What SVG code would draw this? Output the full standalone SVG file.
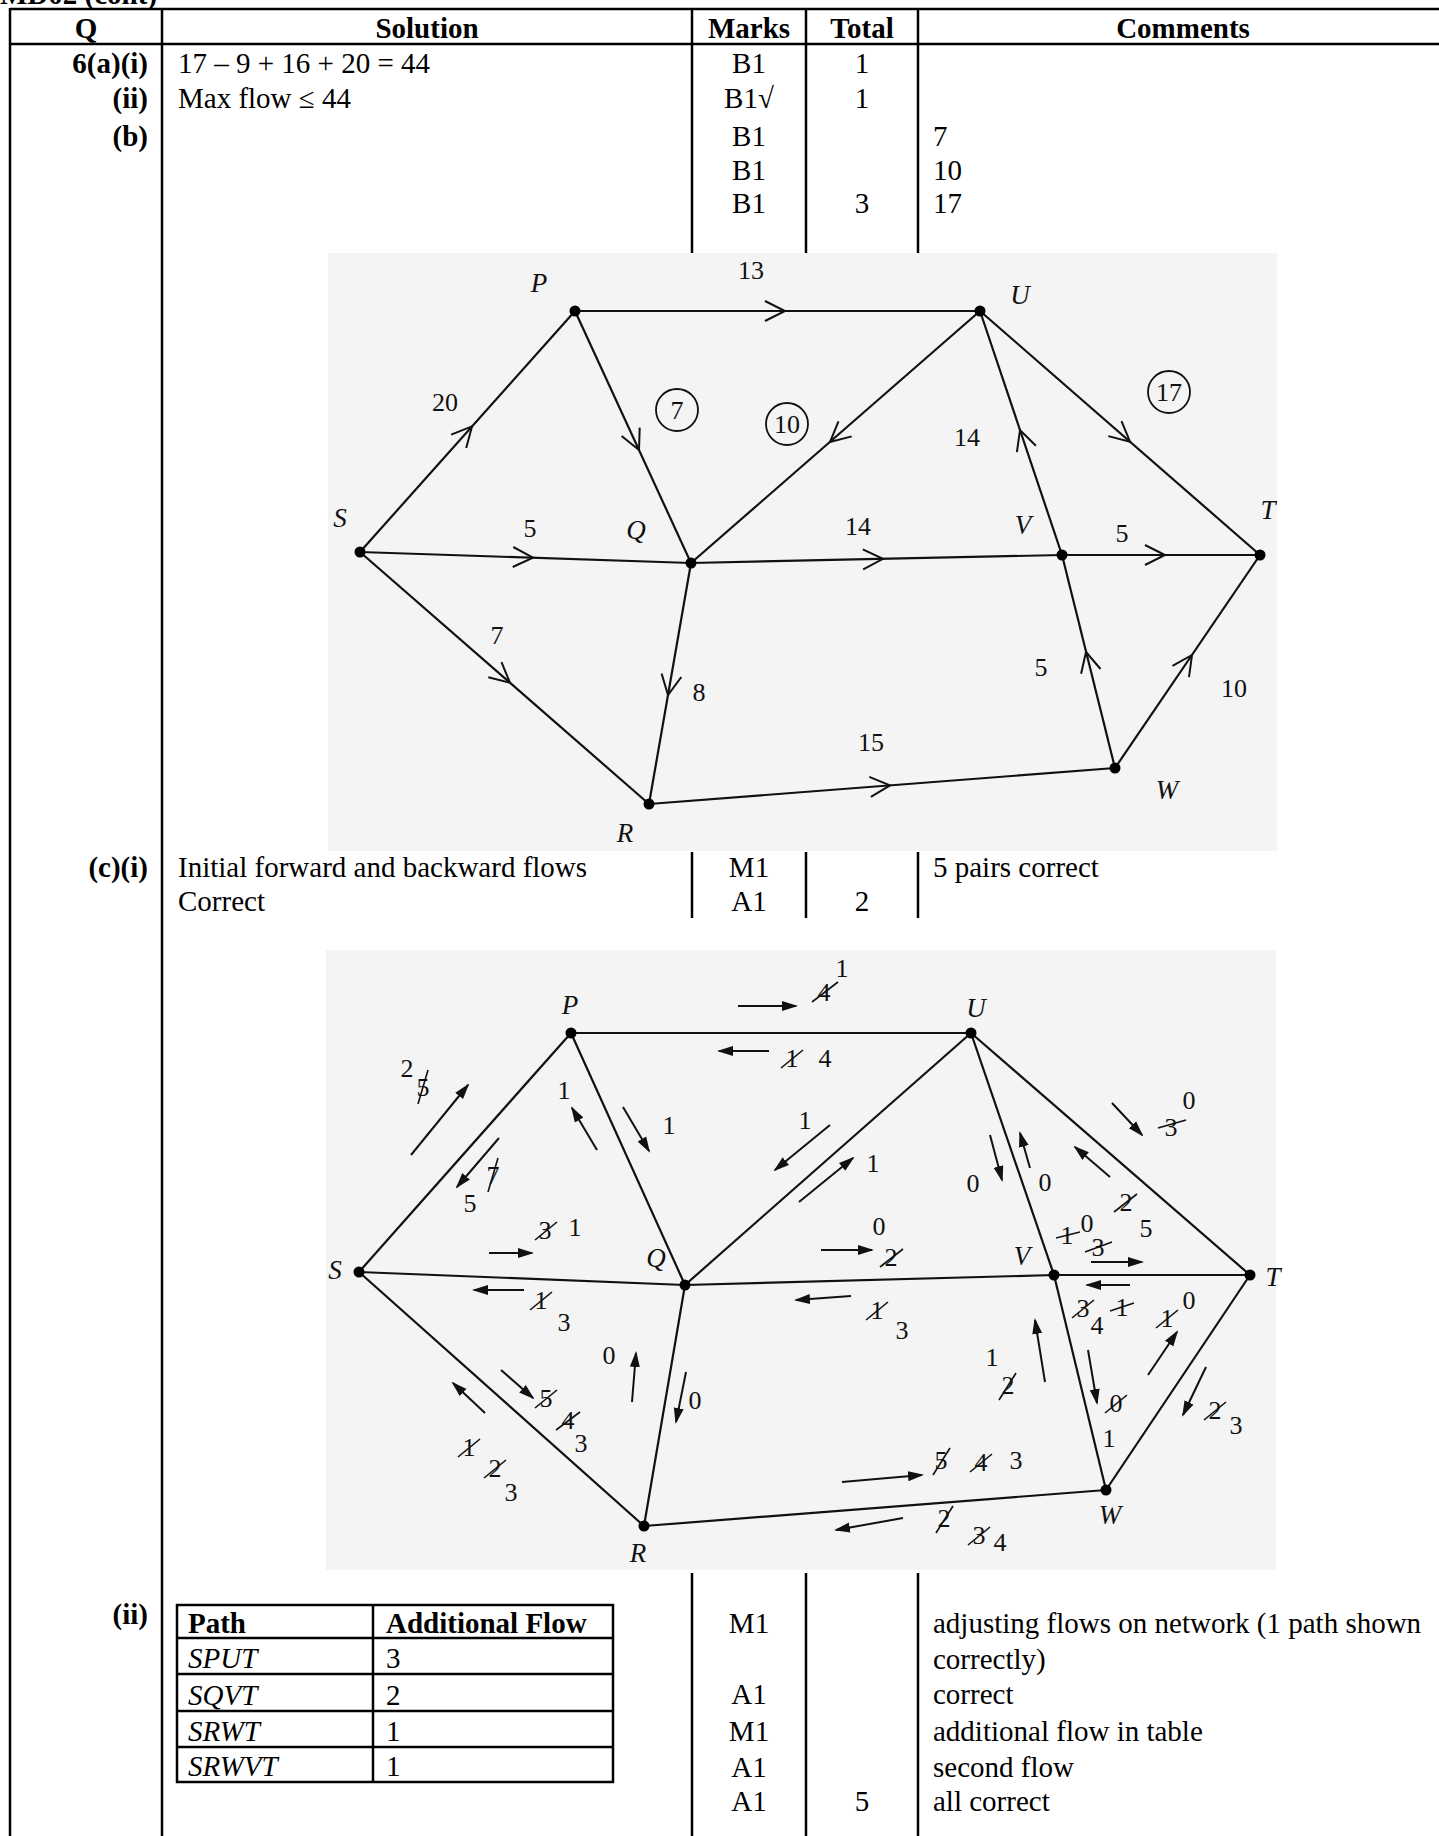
<svg xmlns="http://www.w3.org/2000/svg" width="1439" height="1836" viewBox="0 0 1439 1836">
<style>
.t{font-family:"Liberation Serif","Times New Roman",serif;font-size:29px;fill:#000}
.b{font-weight:bold}
.i{font-style:italic}
.m{text-anchor:middle}
.e{text-anchor:end}
.tl{stroke:#000;stroke-width:2.5;fill:none}
.ed{stroke:#111;stroke-width:2.2;fill:none}
.cv{stroke:#111;stroke-width:2;fill:none}
.ar{stroke:#111;stroke-width:2;fill:none;marker-end:url(#ah)}
.d{font-family:"Liberation Serif","Times New Roman",serif;font-size:26px;fill:#111;text-anchor:middle}
.n{font-family:"Liberation Serif","Times New Roman",serif;font-size:27px;font-style:italic;fill:#111;text-anchor:middle}
.k{stroke:#111;stroke-width:1.6}
.bg{fill:#f4f4f4}
</style>
<defs>
<marker id="ah" markerWidth="16" markerHeight="12" refX="14" refY="6" orient="auto" markerUnits="userSpaceOnUse"><path d="M0,1 L16,6 L0,11 z" fill="#111"/></marker>
</defs>

<g id="page-table">
<text class="t b" x="0" y="4">MD02 (cont)</text>
<line class="tl" x1="10" y1="9" x2="1439" y2="9"/>
<line class="tl" x1="10" y1="44" x2="1439" y2="44"/>
<line class="tl" x1="10" y1="8" x2="10" y2="1836"/>
<line class="tl" x1="162" y1="8" x2="162" y2="1836"/>
<line class="tl" x1="692" y1="9" x2="692" y2="253"/>
<line class="tl" x1="806" y1="9" x2="806" y2="253"/>
<line class="tl" x1="918" y1="9" x2="918" y2="253"/>
<line class="tl" x1="692" y1="852" x2="692" y2="918"/>
<line class="tl" x1="806" y1="852" x2="806" y2="918"/>
<line class="tl" x1="918" y1="852" x2="918" y2="918"/>
<line class="tl" x1="692" y1="1573" x2="692" y2="1836"/>
<line class="tl" x1="806" y1="1573" x2="806" y2="1836"/>
<line class="tl" x1="918" y1="1573" x2="918" y2="1836"/>
<text class="t b m" x="86" y="38">Q</text>
<text class="t b m" x="427" y="38">Solution</text>
<text class="t b m" x="749" y="38">Marks</text>
<text class="t b m" x="862" y="38">Total</text>
<text class="t b m" x="1183" y="38">Comments</text>

<text class="t b e" x="148" y="73">6(a)(i)</text>
<text class="t" x="178" y="73">17 – 9 + 16 + 20 = 44</text>
<text class="t m" x="749" y="73">B1</text>
<text class="t m" x="862" y="73">1</text>
<text class="t b e" x="148" y="108">(ii)</text>
<text class="t" x="178" y="108">Max flow ≤ 44</text>
<text class="t m" x="749" y="108">B1√</text>
<text class="t m" x="862" y="108">1</text>
<text class="t b e" x="148" y="146">(b)</text>
<text class="t m" x="749" y="146">B1</text>
<text class="t" x="933" y="146">7</text>
<text class="t m" x="749" y="180">B1</text>
<text class="t" x="933" y="180">10</text>
<text class="t m" x="749" y="213">B1</text>
<text class="t m" x="862" y="213">3</text>
<text class="t" x="933" y="213">17</text>

<text class="t b e" x="148" y="877">(c)(i)</text>
<text class="t" x="178" y="877">Initial forward and backward flows</text>
<text class="t m" x="749" y="877">M1</text>
<text class="t" x="933" y="877">5 pairs correct</text>
<text class="t" x="178" y="911">Correct</text>
<text class="t m" x="749" y="911">A1</text>
<text class="t m" x="862" y="911">2</text>

<text class="t b e" x="148" y="1624">(ii)</text>
<text class="t m" x="749" y="1633">M1</text>
<text class="t" x="933" y="1633">adjusting flows on network (1 path shown</text>
<text class="t" x="933" y="1669">correctly)</text>
<text class="t m" x="749" y="1704">A1</text>
<text class="t" x="933" y="1704">correct</text>
<text class="t m" x="749" y="1741">M1</text>
<text class="t" x="933" y="1741">additional flow in table</text>
<text class="t m" x="749" y="1777">A1</text>
<text class="t" x="933" y="1777">second flow</text>
<text class="t m" x="749" y="1811">A1</text>
<text class="t m" x="862" y="1811">5</text>
<text class="t" x="933" y="1811">all correct</text>
</g>

<g id="path-table">
<rect class="tl" x="177" y="1605" width="436" height="177"/>
<line class="tl" x1="373" y1="1605" x2="373" y2="1782"/>
<line class="tl" x1="177" y1="1638" x2="613" y2="1638"/>
<line class="tl" x1="177" y1="1674" x2="613" y2="1674"/>
<line class="tl" x1="177" y1="1711" x2="613" y2="1711"/>
<line class="tl" x1="177" y1="1747" x2="613" y2="1747"/>
<text class="t b" x="188" y="1633">Path</text>
<text class="t b" x="386" y="1633">Additional Flow</text>
<text class="t i" x="188" y="1668">SPUT</text><text class="t" x="386" y="1668">3</text>
<text class="t i" x="188" y="1705">SQVT</text><text class="t" x="386" y="1705">2</text>
<text class="t i" x="188" y="1741">SRWT</text><text class="t" x="386" y="1741">1</text>
<text class="t i" x="188" y="1776">SRWVT</text><text class="t" x="386" y="1776">1</text>
</g>

<!-- Diagram 1 -->
<rect class="bg" x="328" y="253" width="949" height="598"/>
<g id="d1-connectors">
<line class="ed" x1="360" y1="552" x2="575" y2="311"/>
<line class="ed" x1="360" y1="552" x2="691" y2="563"/>
<line class="ed" x1="360" y1="552" x2="649" y2="804"/>
<line class="ed" x1="575" y1="311" x2="980" y2="311"/>
<line class="ed" x1="575" y1="311" x2="691" y2="563"/>
<line class="ed" x1="980" y1="311" x2="691" y2="563"/>
<line class="ed" x1="980" y1="311" x2="1062" y2="555"/>
<line class="ed" x1="980" y1="311" x2="1260" y2="555"/>
<line class="ed" x1="691" y1="563" x2="1062" y2="555"/>
<line class="ed" x1="691" y1="563" x2="649" y2="804"/>
<line class="ed" x1="1062" y1="555" x2="1260" y2="555"/>
<line class="ed" x1="1062" y1="555" x2="1115" y2="768"/>
<line class="ed" x1="1115" y1="768" x2="1260" y2="555"/>
<line class="ed" x1="649" y1="804" x2="1115" y2="768"/>
<polyline class="cv" points="765,301 785,311 765,321"/>
<polyline class="cv" points="466.2,447.9 472,426.4 451.2,434.6"/>
<polyline class="cv" points="621.6,436 639,450 639.7,427.6"/>
<polyline class="cv" points="838.5,421.4 830,442 851.7,436.4"/>
<polyline class="cv" points="513.3,547 533,557.7 512.7,567"/>
<polyline class="cv" points="862.8,549.3 883,558.9 863.2,569.3"/>
<polyline class="cv" points="1035.9,445.8 1020,430 1016.9,452.2"/>
<polyline class="cv" points="1108.3,436.1 1130,441.7 1121.5,421.1"/>
<polyline class="cv" points="1145,545 1165,555 1145,565"/>
<polyline class="cv" points="488.3,677.2 510,682.8 501.5,662.2"/>
<polyline class="cv" points="661.6,673.6 668,695 681.3,677"/>
<polyline class="cv" points="1100.5,669 1086,652 1081.1,673.8"/>
<polyline class="cv" points="1189,677.1 1192,655 1172.5,665.9"/>
<polyline class="cv" points="870.9,796.9 890,785.4 869.3,776.9"/>
</g>
<g id="d1-labels">
<text class="d" x="751" y="279">13</text>
<text class="d" x="445" y="411">20</text>
<circle cx="677" cy="410" r="21" fill="none" stroke="#111" stroke-width="1.8"/><text class="d" x="677" y="419">7</text>
<circle cx="787" cy="424" r="21" fill="none" stroke="#111" stroke-width="1.8"/><text class="d" x="787" y="433">10</text>
<circle cx="1169" cy="392" r="21" fill="none" stroke="#111" stroke-width="1.8"/><text class="d" x="1169" y="401">17</text>
<text class="d" x="967" y="446">14</text>
<text class="d" x="530" y="537">5</text>
<text class="d" x="858" y="535">14</text>
<text class="d" x="1122" y="542">5</text>
<text class="d" x="497" y="644">7</text>
<text class="d" x="699" y="701">8</text>
<text class="d" x="1041" y="676">5</text>
<text class="d" x="1234" y="697">10</text>
<text class="d" x="871" y="751">15</text>
</g>
<g id="d1-node-P"><circle cx="575" cy="311" r="5.5" fill="#000"/><text class="n" x="539" y="292">P</text></g>
<g id="d1-node-U"><circle cx="980" cy="311" r="5.5" fill="#000"/><text class="n" x="1020" y="304">U</text></g>
<g id="d1-node-S"><circle cx="360" cy="552" r="5.5" fill="#000"/><text class="n" x="340" y="527">S</text></g>
<g id="d1-node-Q"><circle cx="691" cy="563" r="5.5" fill="#000"/><text class="n" x="636" y="539">Q</text></g>
<g id="d1-node-V"><circle cx="1062" cy="555" r="5.5" fill="#000"/><text class="n" x="1023" y="534">V</text></g>
<g id="d1-node-T"><circle cx="1260" cy="555" r="5.5" fill="#000"/><text class="n" x="1268" y="519">T</text></g>
<g id="d1-node-R"><circle cx="649" cy="804" r="5.5" fill="#000"/><text class="n" x="625" y="842">R</text></g>
<g id="d1-node-W"><circle cx="1115" cy="768" r="5.5" fill="#000"/><text class="n" x="1167" y="799">W</text></g>

<!-- Diagram 2 -->
<rect class="bg" x="326" y="950" width="950" height="620"/>
<g id="d2-connectors">
<line class="ed" x1="359" y1="1272" x2="571" y2="1033"/>
<line class="ed" x1="359" y1="1272" x2="685" y2="1285"/>
<line class="ed" x1="359" y1="1272" x2="644" y2="1526"/>
<line class="ed" x1="571" y1="1033" x2="971" y2="1033"/>
<line class="ed" x1="571" y1="1033" x2="685" y2="1285"/>
<line class="ed" x1="971" y1="1033" x2="685" y2="1285"/>
<line class="ed" x1="971" y1="1033" x2="1054" y2="1275"/>
<line class="ed" x1="971" y1="1033" x2="1250" y2="1275"/>
<line class="ed" x1="685" y1="1285" x2="1054" y2="1275"/>
<line class="ed" x1="685" y1="1285" x2="644" y2="1526"/>
<line class="ed" x1="1054" y1="1275" x2="1250" y2="1275"/>
<line class="ed" x1="1054" y1="1275" x2="1106" y2="1490"/>
<line class="ed" x1="1106" y1="1490" x2="1250" y2="1275"/>
<line class="ed" x1="644" y1="1526" x2="1106" y2="1490"/>
</g>
<g id="d2-flow-arrows">
<line class="ar" x1="738" y1="1006" x2="796" y2="1006"/>
<line class="ar" x1="769" y1="1051" x2="719" y2="1051"/>
<line class="ar" x1="411" y1="1155" x2="468" y2="1085"/>
<line class="ar" x1="499" y1="1138" x2="457" y2="1187"/>
<line class="ar" x1="597" y1="1150" x2="572" y2="1108"/>
<line class="ar" x1="623" y1="1107" x2="649" y2="1151"/>
<line class="ar" x1="830" y1="1125" x2="775" y2="1170"/>
<line class="ar" x1="799" y1="1202" x2="853" y2="1158"/>
<line class="ar" x1="489" y1="1253" x2="532" y2="1253"/>
<line class="ar" x1="524" y1="1290" x2="474" y2="1290"/>
<line class="ar" x1="821" y1="1250" x2="872" y2="1250"/>
<line class="ar" x1="851" y1="1296" x2="796" y2="1300"/>
<line class="ar" x1="990" y1="1135" x2="1002" y2="1180"/>
<line class="ar" x1="1030" y1="1168" x2="1020" y2="1133"/>
<line class="ar" x1="1112" y1="1103" x2="1142" y2="1135"/>
<line class="ar" x1="1110" y1="1177" x2="1075" y2="1147"/>
<line class="ar" x1="1091" y1="1262" x2="1142" y2="1262"/>
<line class="ar" x1="1130" y1="1285" x2="1087" y2="1285"/>
<line class="ar" x1="1148" y1="1375" x2="1177" y2="1332"/>
<line class="ar" x1="1206" y1="1367" x2="1183" y2="1415"/>
<line class="ar" x1="1045" y1="1382" x2="1035" y2="1320"/>
<line class="ar" x1="1088" y1="1350" x2="1097" y2="1403"/>
<line class="ar" x1="501" y1="1370" x2="533" y2="1398"/>
<line class="ar" x1="485" y1="1413" x2="453" y2="1383"/>
<line class="ar" x1="632" y1="1402" x2="636" y2="1353"/>
<line class="ar" x1="686" y1="1372" x2="676" y2="1422"/>
<line class="ar" x1="842" y1="1482" x2="922" y2="1475"/>
<line class="ar" x1="903" y1="1518" x2="836" y2="1530"/>
</g>
<g id="d2-flow-labels">
<text class="d" x="824" y="1001">4</text><line class="k" x1="812" y1="1002" x2="838" y2="982"/>
<text class="d" x="842" y="977">1</text>
<text class="d" x="792" y="1067">1</text><line class="k" x1="781" y1="1068" x2="803" y2="1050"/>
<text class="d" x="825" y="1067">4</text>
<text class="d" x="407" y="1077">2</text>
<text class="d" x="423" y="1096">5</text><line class="k" x1="418" y1="1104" x2="428" y2="1070"/>
<text class="d" x="493" y="1184">7</text><line class="k" x1="488" y1="1192" x2="498" y2="1158"/>
<text class="d" x="470" y="1212">5</text>
<text class="d" x="564" y="1099">1</text>
<text class="d" x="669" y="1134">1</text>
<text class="d" x="805" y="1129">1</text>
<text class="d" x="873" y="1172">1</text>
<text class="d" x="545" y="1239">3</text><line class="k" x1="535" y1="1240" x2="557" y2="1222"/>
<text class="d" x="575" y="1236">1</text>
<text class="d" x="541" y="1309">1</text><line class="k" x1="530" y1="1310" x2="552" y2="1292"/>
<text class="d" x="564" y="1331">3</text>
<text class="d" x="879" y="1235">0</text>
<text class="d" x="891" y="1266">2</text><line class="k" x1="880" y1="1267" x2="903" y2="1249"/>
<text class="d" x="877" y="1319">1</text><line class="k" x1="866" y1="1320" x2="888" y2="1302"/>
<text class="d" x="902" y="1339">3</text>
<text class="d" x="973" y="1192">0</text>
<text class="d" x="1045" y="1191">0</text>
<text class="d" x="1171" y="1136">3</text><line class="k" x1="1158" y1="1128" x2="1186" y2="1120"/>
<text class="d" x="1189" y="1109">0</text>
<text class="d" x="1126" y="1211">2</text><line class="k" x1="1114" y1="1212" x2="1137" y2="1194"/>
<text class="d" x="1146" y="1237">5</text>
<text class="d" x="1067" y="1244">1</text><line class="k" x1="1056" y1="1238" x2="1080" y2="1232"/>
<text class="d" x="1087" y="1232">0</text>
<text class="d" x="1098" y="1256">3</text><line class="k" x1="1085" y1="1252" x2="1112" y2="1242"/>
<text class="d" x="1083" y="1317">3</text><line class="k" x1="1072" y1="1318" x2="1094" y2="1300"/>
<text class="d" x="1097" y="1334">4</text>
<text class="d" x="1122" y="1316">1</text><line class="k" x1="1110" y1="1311" x2="1134" y2="1303"/>
<text class="d" x="1167" y="1327">1</text><line class="k" x1="1156" y1="1328" x2="1178" y2="1310"/>
<text class="d" x="1189" y="1309">0</text>
<text class="d" x="1215" y="1419">2</text><line class="k" x1="1204" y1="1420" x2="1226" y2="1402"/>
<text class="d" x="1236" y="1434">3</text>
<text class="d" x="992" y="1366">1</text>
<text class="d" x="1008" y="1394">2</text><line class="k" x1="999" y1="1400" x2="1016" y2="1373"/>
<text class="d" x="1116" y="1412">0</text><line class="k" x1="1105" y1="1413" x2="1127" y2="1395"/>
<text class="d" x="1109" y="1447">1</text>
<text class="d" x="546" y="1407">5</text><line class="k" x1="535" y1="1408" x2="557" y2="1390"/>
<text class="d" x="568" y="1429">4</text><line class="k" x1="556" y1="1430" x2="580" y2="1412"/>
<text class="d" x="581" y="1452">3</text>
<text class="d" x="469" y="1456">1</text><line class="k" x1="458" y1="1457" x2="480" y2="1439"/>
<text class="d" x="495" y="1477">2</text><line class="k" x1="484" y1="1478" x2="506" y2="1460"/>
<text class="d" x="511" y="1501">3</text>
<text class="d" x="609" y="1364">0</text>
<text class="d" x="695" y="1409">0</text>
<text class="d" x="941" y="1469">5</text><line class="k" x1="933" y1="1475" x2="950" y2="1448"/>
<text class="d" x="981" y="1471">4</text><line class="k" x1="970" y1="1472" x2="992" y2="1454"/>
<text class="d" x="1016" y="1469">3</text>
<text class="d" x="944" y="1527">2</text><line class="k" x1="936" y1="1533" x2="953" y2="1506"/>
<text class="d" x="979" y="1544">3</text><line class="k" x1="968" y1="1545" x2="990" y2="1527"/>
<text class="d" x="1000" y="1551">4</text>
</g>
<g id="d2-node-P"><circle cx="571" cy="1033" r="5.5" fill="#000"/><text class="n" x="570" y="1014">P</text></g>
<g id="d2-node-U"><circle cx="971" cy="1033" r="5.5" fill="#000"/><text class="n" x="976" y="1017">U</text></g>
<g id="d2-node-S"><circle cx="359" cy="1272" r="5.5" fill="#000"/><text class="n" x="335" y="1279">S</text></g>
<g id="d2-node-Q"><circle cx="685" cy="1285" r="5.5" fill="#000"/><text class="n" x="656" y="1267">Q</text></g>
<g id="d2-node-V"><circle cx="1054" cy="1275" r="5.5" fill="#000"/><text class="n" x="1022" y="1265">V</text></g>
<g id="d2-node-T"><circle cx="1250" cy="1275" r="5.5" fill="#000"/><text class="n" x="1273" y="1286">T</text></g>
<g id="d2-node-R"><circle cx="644" cy="1526" r="5.5" fill="#000"/><text class="n" x="638" y="1562">R</text></g>
<g id="d2-node-W"><circle cx="1106" cy="1490" r="5.5" fill="#000"/><text class="n" x="1110" y="1524">W</text></g>
</svg>
